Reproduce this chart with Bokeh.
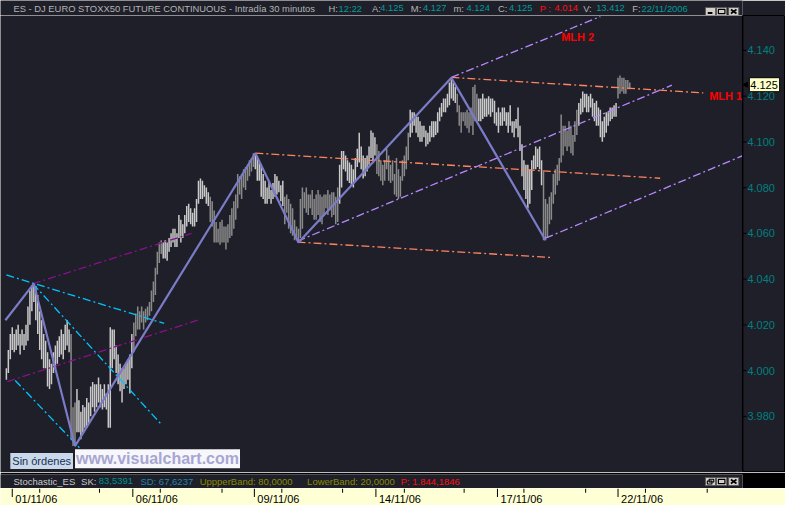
import math
from bokeh.plotting import figure
from bokeh.models import Range1d, Label, ColumnDataSource, Span
from bokeh.layouts import column, row
from bokeh.core.properties import value
from bokeh.embed import file_html
from bokeh.resources import INLINE

BG = "#1e1f29"
FONT = "Liberation Sans"
LIGHT = "#cacaca"
DARK = "#8a8a8a"

# ---------------- data: 30-minute bars (high / low, index points) ----------------
HIGH = [
    4001, 4009, 4016, 4019, 4016, 4018, 4020, 4016, 4018, 4016,
    4020, 4028, 4035, 4037, 4038, 4037, 4033, 4026, 4022, 4016,
    4013, 4008, 4005, 4003, 4008, 4011, 4013, 4015, 4018, 4016,
    4020, 4022, 4018, 4016, 3984, 3986, 3992, 3987, 3982, 3985,
    3984, 3988, 3986, 3993, 3995, 3994, 3994, 3997, 3994, 3992,
    3994, 3990, 3994, 4019, 4018, 4018, 4011, 4007, 4003, 4001,
    4001, 4003, 4005, 4007, 4016, 4021, 4025, 4028, 4026, 4028,
    4026, 4027, 4028, 4030, 4035, 4039, 4045, 4052, 4056, 4057,
    4056, 4057, 4056, 4058, 4060, 4062, 4062, 4060, 4068, 4066,
    4064, 4068, 4072, 4073, 4071, 4069, 4071, 4075, 4083, 4084,
    4083, 4081, 4080, 4078, 4076, 4074, 4070, 4065, 4062, 4065,
    4066, 4063, 4063, 4064, 4068, 4071, 4074, 4077, 4086, 4085,
    4086, 4088, 4089, 4090, 4092, 4093, 4095, 4095, 4093, 4091,
    4090, 4086, 4083, 4080, 4083, 4079, 4082, 4086, 4085, 4083,
    4081, 4083, 4076, 4077, 4075, 4073, 4071, 4066, 4063, 4062,
    4075, 4080, 4078, 4080, 4077, 4077, 4079, 4075, 4077, 4079,
    4077, 4076, 4077, 4077, 4079, 4077, 4078, 4078, 4076, 4080,
    4090, 4096, 4096, 4094, 4092, 4091, 4090, 4088, 4093, 4097,
    4104, 4098, 4094, 4093, 4094, 4098, 4105, 4104, 4102, 4099,
    4096, 4092, 4090, 4092, 4097, 4094, 4090, 4092, 4086, 4093,
    4088, 4085, 4092, 4094, 4098, 4104, 4114, 4113, 4113, 4112,
    4111, 4109, 4107, 4107, 4105, 4104, 4107, 4109, 4109, 4109,
    4113, 4115, 4117, 4119, 4119, 4121, 4126, 4128, 4126, 4124,
    4121, 4116, 4113, 4113, 4113, 4114, 4113, 4115, 4124, 4125,
    4121, 4119, 4119, 4121, 4119, 4119, 4120, 4119, 4119, 4118,
    4113, 4115, 4113, 4115, 4115, 4113, 4113, 4116, 4109, 4109,
    4110, 4115, 4107, 4099, 4092, 4090, 4090, 4088, 4092, 4094,
    4098, 4097, 4098, 4092, 4087, 4075, 4073, 4076, 4078, 4086,
    4088, 4090, 4093, 4112, 4107, 4107, 4105, 4109, 4107, 4103,
    4109, 4114, 4117, 4119, 4122, 4121, 4121, 4120, 4121, 4119,
    4117, 4118, 4115, 4114, 4109, 4111, 4113, 4113, 4115, 4115,
    4116, 4117, 4128, 4129, 4128, 4128, 4127, 4127, 4126,
]
LOW = [
    3996, 3999, 4005, 4009, 4008, 4009, 4011, 4007, 4011, 4009,
    4011, 4013, 4020, 4026, 4030, 4022, 4016, 4009, 4005, 4001,
    4001, 3993, 3992, 3994, 3999, 4001, 4003, 4006, 4007, 4005,
    4009, 4011, 4008, 3970, 3967, 3968, 3973, 3973, 3970, 3973,
    3975, 3975, 3977, 3980, 3984, 3982, 3984, 3986, 3984, 3983,
    3984, 3983, 3975, 3975, 4001, 4005, 3999, 3994, 3991, 3986,
    3992, 3994, 3996, 3990, 4001, 4008, 4015, 4018, 4018, 4021,
    4018, 4021, 4022, 4024, 4026, 4030, 4033, 4042, 4047, 4051,
    4049, 4049, 4048, 4052, 4054, 4056, 4054, 4054, 4058, 4056,
    4058, 4060, 4063, 4065, 4064, 4063, 4063, 4065, 4073, 4075,
    4075, 4076, 4073, 4072, 4065, 4063, 4056, 4056, 4056, 4055,
    4056, 4056, 4053, 4056, 4058, 4059, 4062, 4066, 4071, 4077,
    4075, 4080, 4079, 4083, 4085, 4087, 4089, 4088, 4083, 4083,
    4076, 4075, 4073, 4073, 4075, 4073, 4075, 4076, 4077, 4078,
    4074, 4072, 4064, 4069, 4062, 4060, 4059, 4057, 4057, 4056,
    4058, 4062, 4071, 4069, 4068, 4071, 4068, 4066, 4066, 4068,
    4065, 4064, 4068, 4071, 4068, 4070, 4067, 4068, 4064, 4065,
    4073, 4080, 4088, 4087, 4083, 4082, 4081, 4080, 4083, 4089,
    4091, 4088, 4084, 4085, 4087, 4090, 4093, 4092, 4094, 4086,
    4085, 4083, 4081, 4083, 4088, 4083, 4082, 4083, 4077, 4076,
    4075, 4076, 4083, 4085, 4088, 4092, 4102, 4104, 4107, 4104,
    4102, 4100, 4100, 4102, 4098, 4099, 4100, 4102, 4102, 4103,
    4104, 4109, 4111, 4113, 4113, 4115, 4116, 4119, 4118, 4117,
    4113, 4107, 4104, 4109, 4107, 4106, 4104, 4107, 4103, 4109,
    4109, 4109, 4109, 4110, 4111, 4111, 4112, 4111, 4113, 4108,
    4107, 4104, 4107, 4107, 4109, 4107, 4104, 4107, 4104, 4102,
    4106, 4102, 4096, 4085, 4079, 4075, 4071, 4073, 4079, 4088,
    4088, 4089, 4088, 4081, 4057, 4057, 4058, 4064, 4066, 4073,
    4077, 4081, 4083, 4091, 4094, 4098, 4096, 4098, 4095, 4094,
    4100, 4103, 4107, 4112, 4113, 4115, 4113, 4113, 4115, 4111,
    4109, 4107, 4107, 4102, 4100, 4102, 4104, 4107, 4109, 4110,
    4111, 4111, 4119, 4121, 4122, 4121, 4121, 4123, 4123,
]
# bar shading runs (count, L=light / D=dark)
SHADE_RUNS = [(33, "L"), (3, "D"), (29, "L"), (15, "D"), (24, "L"), (23, "D"),
              (15, "L"), (28, "D"), (19, "L"), (17, "D"), (24, "L"), (11, "D"),
              (33, "L"), (18, "D"), (20, "L"), (7, "D")]

# zig-zag pivots (bar index, price)
ZZ_X = [-0.5, 14, 35, 127, 149, 227, 275]
ZZ_P = [4022, 4038, 3967, 4095, 4056, 4128, 4057]

# median-line / pitchfork segments
CYAN_X0 = [0, 13.5, 4.5]
CYAN_P0 = [4041.8, 4038, 3995.7]
CYAN_X1 = [80.5, 78.5, 38]
CYAN_P1 = [4020.6, 3977, 3965.6]

PURPLE_X0 = [0.5, 13.5]
PURPLE_P0 = [3995.2, 4038]
PURPLE_X1 = [98.5, 94.5]
PURPLE_P1 = [4022.3, 4060]

ORANGE_X0 = [127, 148.5, 227]
ORANGE_P0 = [4095.1, 4056.2, 4128.2]
ORANGE_X1 = [333.5, 278.5, 355.5]
ORANGE_P1 = [4084.1, 4049.4, 4121.4]

LAV_X0 = [227, 148.5, 275]
LAV_P0 = [4128.2, 4056.6, 4057.9]
LAV_X1 = [303, 339.5, 375.5]
LAV_P1 = [4154.8, 4124.8, 4093.9]

Y_TICKS = [3980, 4000, 4020, 4040, 4060, 4080, 4100, 4120, 4140]
Y_LABELS = ["3.980", "4.000", "4.020", "4.040", "4.060", "4.080", "4.100", "4.120", "4.140"]
LAST_PRICE = 4125
LAST_LABEL = "4.125"

DATE_TICKS = [3, 64.5, 126.5, 188.5, 250.5, 312]
DATE_LABELS = ["01/11/06", "06/11/06", "09/11/06", "14/11/06", "17/11/06", "22/11/06"]
DATE_MINOR = [17, 47.5, 78.5, 110, 140.5, 171.5, 203, 233.5, 264, 295.5, 326, 357.5]

GRAY_T = "#b4b4b4"
TEAL_T = "#009b9b"
RED_T = "#ff1010"
TITLE_X = [14, 354, 365, 401, 410, 443, 456, 489, 503, 537, 549, 582, 598, 629, 643, 682, 692]
TITLE_TEXT = ["ES - DJ EURO STOXX50 FUTURE CONTINUOUS - Intradía 30 minutos", "H:", "12:22",
              "A:", "4.125", "M:", "4.127", "m:", "4.124", "C:", "4.125", "P :", "4.014",
              "V:", "13.412", "F:", "22/11/2006"]
TITLE_COLOR = [GRAY_T, GRAY_T, TEAL_T, GRAY_T, TEAL_T, GRAY_T, TEAL_T, GRAY_T, TEAL_T,
               GRAY_T, TEAL_T, RED_T, RED_T, GRAY_T, TEAL_T, GRAY_T, TEAL_T]

STOCH_X = [14, 87, 106, 151, 215, 331, 432]
STOCH_TEXT = ["Stochastic_ES", "SK:", "83,5391", "SD: 67,6237", "UppperBand: 80,0000",
              "LowerBand: 20,0000", "P: 1.844,1846"]
STOCH_COLOR = ["#c8c8c8", "#c8c8c8", "#009090", "#1f86b0", "#8a8a00", "#8a8a00", RED_T]

BTN_L = [761, 773, 786]
BTN_R = [772, 784, 797]


def buttons(fig, top, bottom, kinds):
    fig.quad(left=BTN_L, right=BTN_R, top=[top] * 3, bottom=[bottom] * 3,
             fill_color="#d4d0c8", line_color="#5a5a5a", line_width=1)
    for k, l, r in zip(kinds, BTN_L, BTN_R):
        cx = (l + r) / 2
        if k == "min":
            fig.segment(x0=[cx - 3], y0=[bottom - 2.5], x1=[cx + 2], y1=[bottom - 2.5],
                        color="black", line_width=2)
        elif k == "max":
            fig.quad(left=[cx - 3.5], right=[cx + 3.5], top=[top + 1.8], bottom=[bottom - 1.8],
                     fill_color=None, line_color="black", line_width=1.2)
        elif k == "restore":
            fig.quad(left=[cx - 3.5, cx - 1.5], right=[cx + 1.5, cx + 3.5],
                     top=[top + 3.5, top + 1.8], bottom=[bottom - 1.5, bottom - 3.5],
                     fill_color=None, line_color="black", line_width=1.1)
        else:
            fig.segment(x0=[cx - 3, cx - 3], y0=[top + 2, bottom - 2], x1=[cx + 3, cx + 3],
                        y1=[bottom - 2, top + 2], color="black", line_width=1.6)


def bare(width, height, xr, yr, bg, border=None, **kw):
    f = figure(width=width, height=height, x_range=xr, y_range=yr, output_backend="svg",
               toolbar_location=None, x_axis_location=None, y_axis_location=None,
               min_border_left=kw.get("left", 0), min_border_right=kw.get("right", 0),
               min_border_top=kw.get("top", 0), min_border_bottom=kw.get("bottom", 0),
               background_fill_color=bg, border_fill_color=border or bg,
               outline_line_color=kw.get("outline", None))
    f.grid.visible = False
    return f


# ---------------- title bar ----------------
t = bare(785, 15, Range1d(0, 801), Range1d(15, 0), BG)
t.text(x=TITLE_X, y=[7.8] * len(TITLE_X), text=TITLE_TEXT, text_color=TITLE_COLOR,
       text_font=value(FONT), text_font_size="9.4px", text_baseline="middle", text_align="left")
buttons(t, 7, 15, ["min", "max", "close"])

# ---------------- main price chart ----------------
xr = Range1d(-3, 375.5)
yr = Range1d(3955.45, 4155.25)
p = bare(742, 457, xr, yr, BG)

colors = []
for n, s_ in SHADE_RUNS:
    colors += [LIGHT if s_ == "L" else DARK] * n
src = ColumnDataSource(dict(x=list(range(len(HIGH))), hi=HIGH, lo=LOW, c=colors))
p.segment(x0="x", y0="lo", x1="x", y1="hi", color="c", line_width=1.5, source=src)

DASH = "8 3 2 3"
p.segment(x0=PURPLE_X0, y0=PURPLE_P0, x1=PURPLE_X1, y1=PURPLE_P1, color="#8a108a",
          line_width=1.3, line_dash=DASH)
p.segment(x0=CYAN_X0, y0=CYAN_P0, x1=CYAN_X1, y1=CYAN_P1, color="#00c4ff",
          line_width=1.3, line_dash=DASH)
p.segment(x0=ORANGE_X0, y0=ORANGE_P0, x1=ORANGE_X1, y1=ORANGE_P1, color="#ff8460",
          line_width=1.3, line_dash=DASH)
p.segment(x0=LAV_X0, y0=LAV_P0, x1=LAV_X1, y1=LAV_P1, color="#b888ff",
          line_width=1.3, line_dash=DASH)
p.line(ZZ_X, ZZ_P, color="#7b7bc8", line_width=2.2)

p.add_layout(Label(x=283, y=4146, text="MLH 2", text_color="#ff0000", text_font=FONT,
                   text_font_size="11px", text_font_style="bold", text_baseline="middle"))
p.add_layout(Label(x=358.5, y=4120, text="MLH 1", text_color="#ff0000", text_font=FONT,
                   text_font_size="11px", text_font_style="bold", text_baseline="middle"))
p.add_layout(Label(x=2, y=3960.5, text="Sin órdenes", text_color="#1a3050", text_font=FONT,
                   text_font_size="11px", text_baseline="middle",
                   background_fill_color="#c9d8ea", padding=2))
p.add_layout(Label(x=35, y=3961.5, text="www.visualchart.com", text_color="#a6a6d2",
                   text_font=FONT, text_font_size="16px", text_font_style="bold",
                   text_baseline="middle", background_fill_color="#f6f6fb", padding=1))

# ---------------- price scale (right) ----------------
a = bare(43, 457, Range1d(757, 801), yr, BG, outline="black")
a.add_layout(Span(location=757.4, dimension="height", line_color="black", line_width=1))
a.segment(x0=[757] * len(Y_TICKS), y0=Y_TICKS, x1=[761] * len(Y_TICKS), y1=Y_TICKS,
          color="black", line_width=1)
a.text(x=[762] * len(Y_TICKS), y=Y_TICKS, text=Y_LABELS, text_color="#008080",
       text_font=value(FONT), text_font_size="11px", text_baseline="middle", text_align="left")
a.rect(x=[779.5], y=[LAST_PRICE], width=31, height=14, height_units="screen",
       fill_color="#ffffcc", line_color="black", line_width=1)
a.text(x=[765], y=[LAST_PRICE], text=[LAST_LABEL], text_color="black",
       text_font=value(FONT), text_font_size="11px", text_baseline="middle", text_align="left")
a.scatter(x=[760.5], y=[LAST_PRICE], marker="triangle", size=5, angle=math.pi / 2,
          color="black")

# ---------------- stochastic header ----------------
s = bare(785, 16, Range1d(0, 801), Range1d(16, 2), BG, border="black", top=2)
s.text(x=STOCH_X, y=[8.8] * len(STOCH_X), text=STOCH_TEXT, text_color=STOCH_COLOR,
       text_font=value(FONT), text_font_size="9.5px", text_baseline="middle", text_align="left")
buttons(s, 5, 13, ["restore", "max", "close"])

# ---------------- date strip ----------------
YEL = "#ffffd6"
d = bare(785, 17, xr, Range1d(18, 0), YEL, right=43)
d.segment(x0=DATE_TICKS, y0=[0] * len(DATE_TICKS), x1=DATE_TICKS, y1=[9] * len(DATE_TICKS),
          color="black", line_width=1)
d.segment(x0=DATE_MINOR, y0=[0] * len(DATE_MINOR), x1=DATE_MINOR, y1=[4.5] * len(DATE_MINOR),
          color="black", line_width=1)
d.text(x=DATE_TICKS, y=[10.6] * len(DATE_TICKS), text=DATE_LABELS, x_offset=3,
       text_color="black", text_font=value(FONT), text_font_size="11px",
       text_baseline="middle", text_align="left")

layout = column(t, row(p, a, spacing=0), s, d, spacing=0)
open("out.html", "w").write(file_html(layout, INLINE, "ES chart"))
